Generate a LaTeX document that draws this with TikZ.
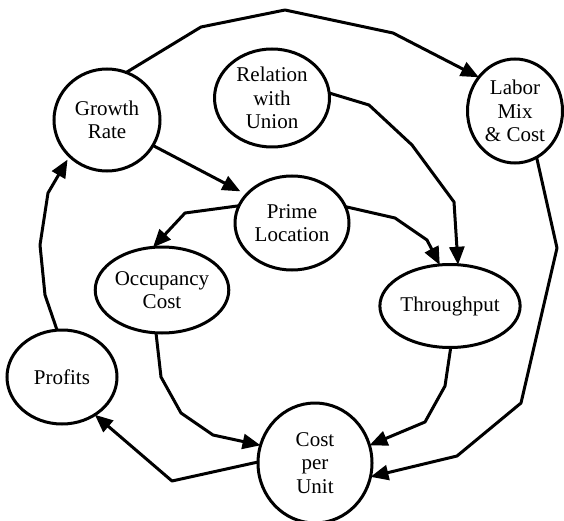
\documentclass[tikz,border=0pt]{standalone}
\usepackage{fontspec}
\setmainfont{Liberation Serif}
\usetikzlibrary{shapes.geometric,arrows.meta}
\tikzset{
  factor/.style={draw, ellipse, line width=3pt, inner sep=0pt, outer sep=0pt, align=center,
    font=\fontsize{21pt}{23.5pt}\selectfont},
  link/.style={line width=3pt, line join=round, -{Triangle[length=18pt,width=15pt]}},
}
\begin{document}
\begin{tikzpicture}[x=1pt, y=-1pt]
\useasboundingbox (0,0) rectangle (564,521);
\node[factor, minimum width=106pt, minimum height=102pt] (G) at (107,120) {Growth\\Rate};
\node[factor, minimum width=115pt, minimum height=98pt] (R) at (272,98) {Relation\\with\\Union};
\node[factor, minimum width=95pt, minimum height=104pt] (L) at (515,111) {Labor\\Mix\\\& Cost};
\node[factor, minimum width=114pt, minimum height=94pt] (P) at (292,223) {Prime\\Location};
\node[factor, minimum width=122pt, minimum height=86pt] (O) at (162,290) {Occupancy\\Cost};
\node[factor, minimum width=126pt, minimum height=83pt] (T) at (450,306) {Throughput};
\node[factor, minimum width=110pt, minimum height=94pt] (F) at (62,377) {Profits};
\node[factor, minimum width=114pt, minimum height=120pt] (C) at (315,463) {Cost\\per\\Unit};

\draw[link] (G.68) -- (201,27) -- (285,10) -- (393,33) -- (L.137);
\draw[link] (R.5) -- (369,105) -- (412,145) -- (454,202) -- (T.79);
\draw[link, shorten >=7pt] (G.-29) -- (P.148);
\draw[link] (P.162) -- (185,213) -- (O.102);
\draw[link] (P.17) -- (395,218) -- (427,240) -- (T.104);
\draw[link] (L.-65) -- (557,248) -- (521,403) -- (457,456) -- (C.-14);
\draw[link] (T.-89) -- (445,386) -- (425,422) -- (C.18);
\draw[link] (O.-98) -- (161,377) -- (181,413) -- (213,435) -- (C.162);
\draw[link] (C.179) -- (172,481) -- (F.-49);
\draw[link, shorten >=4pt] (F.96) -- (45,295) -- (40,245) -- (48,193) -- (G.224);
\end{tikzpicture}
\end{document}
